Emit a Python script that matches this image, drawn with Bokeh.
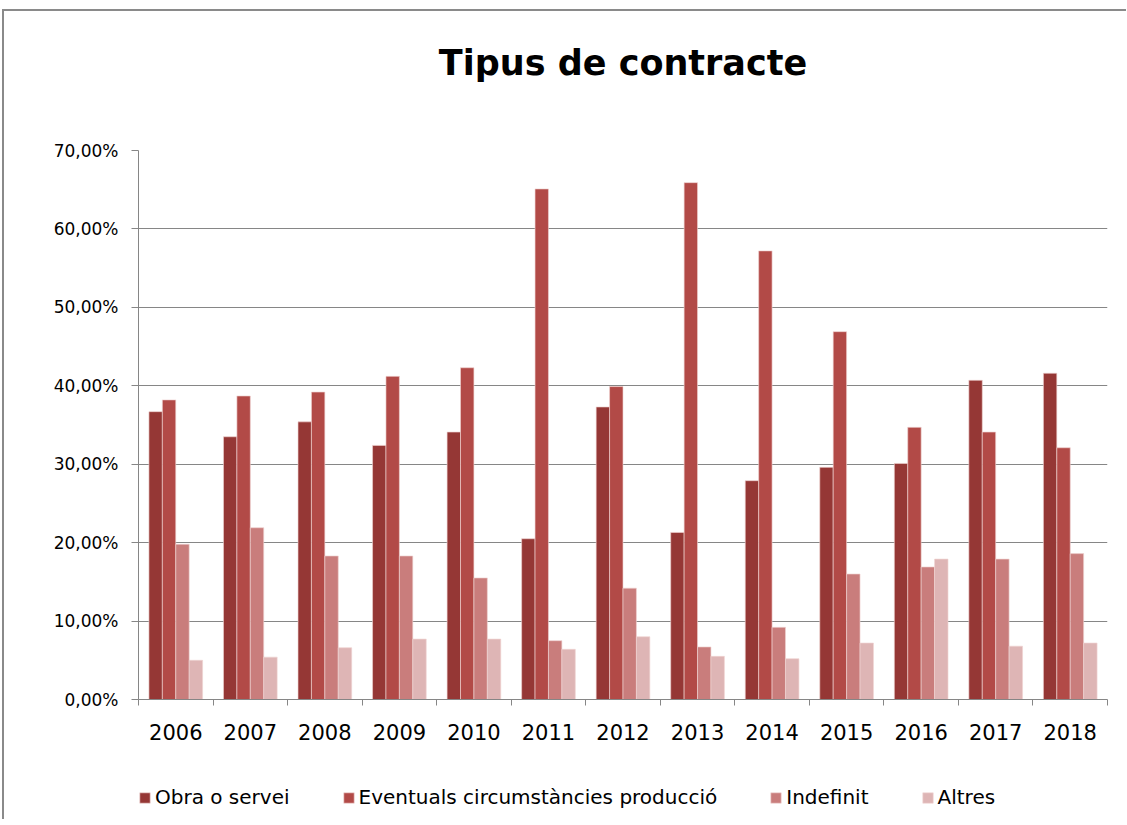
from bokeh.plotting import figure
from bokeh.layouts import column
from bokeh.models import ColumnDataSource, FixedTicker, Legend, LegendItem, Title
from bokeh.embed import file_html
from bokeh.resources import INLINE

years = ["2006", "2007", "2008", "2009", "2010", "2011", "2012",
         "2013", "2014", "2015", "2016", "2017", "2018"]
series_names = ["Obra o servei", "Eventuals circumstàncies producció", "Indefinit", "Altres"]
obra = [36.7, 33.5, 35.4, 32.4, 34.1, 20.5, 37.3, 21.3, 27.9, 29.6, 30.1, 40.7, 41.6]
eventuals = [38.2, 38.7, 39.2, 41.2, 42.3, 65.1, 39.9, 65.9, 57.2, 46.9, 34.7, 34.1, 32.1]
indefinit = [19.8, 21.9, 18.3, 18.3, 15.5, 7.5, 14.2, 6.7, 9.2, 16.0, 16.9, 17.9, 18.6]
altres = [5.0, 5.4, 6.6, 7.7, 7.7, 6.4, 8.0, 5.5, 5.2, 7.2, 17.9, 6.8, 7.2]
y_ticks = [0, 10, 20, 30, 40, 50, 60, 70]
y_tick_labels = ["0,00%", "10,00%", "20,00%", "30,00%", "40,00%", "50,00%", "60,00%", "70,00%"]

colors = ["#953735", "#B24A47", "#C97D7C", "#DEB5B5"]
values = [obra, eventuals, indefinit, altres]
offsets = [-0.27, -0.09, 0.09, 0.27]
bar_w = 0.18
edge = "#EFD3D2"

xs = list(range(len(years)))
sources = [ColumnDataSource(dict(x=[x + off for x in xs], top=vals))
           for vals, off in zip(values, offsets)]

p = figure(frame_width=969, frame_height=549, x_range=(-0.5, len(years) - 0.5), y_range=(0, 70),
           output_backend="svg", toolbar_location=None, title=None,
           min_border_left=134, min_border_right=19, min_border_top=139, min_border_bottom=60)

spacer = Title(text=" ", text_font_size="10px", standoff=55)
p.add_layout(spacer, "above")
main_title = Title(text="Tipus de contracte", text_font="DejaVu Sans", text_font_style="bold",
                   text_font_size="35px", align="center", text_color="#000000", standoff=0)
p.add_layout(main_title, "above")

p.outline_line_color = None
p.background_fill_color = "white"
p.border_fill_color = "white"

for src, col in zip(sources, colors):
    p.vbar(x="x", top="top", width=bar_w, bottom=0, source=src,
           fill_color=col, line_color=edge, line_width=0.8, line_alpha=0.8)

# x axis
p.xaxis.ticker = FixedTicker(ticks=xs, minor_ticks=[x - 0.5 for x in xs] + [len(years) - 0.5])
p.xaxis.major_label_overrides = {x: y for x, y in zip(xs, years)}
p.xaxis.major_tick_line_color = None
p.xaxis.major_tick_out = 0
p.xaxis.major_tick_in = 0
p.xaxis.minor_tick_line_color = "#868686"
p.xaxis.minor_tick_out = 6
p.xaxis.minor_tick_in = 0
p.xaxis.axis_line_color = "#868686"
p.xaxis.major_label_text_font = "DejaVu Sans"
p.xaxis.major_label_text_font_size = "21px"
p.xaxis.major_label_text_color = "#000000"
p.xaxis.major_label_standoff = 18

# y axis
p.yaxis.ticker = FixedTicker(ticks=y_ticks)
p.yaxis.major_label_overrides = {t: l for t, l in zip(y_ticks, y_tick_labels)}
p.yaxis.axis_line_color = "#868686"
p.yaxis.major_tick_line_color = "#868686"
p.yaxis.major_tick_out = 7
p.yaxis.major_tick_in = 0
p.yaxis.minor_tick_line_color = None
p.yaxis.major_label_text_font = "DejaVu Sans"
p.yaxis.major_label_text_font_size = "17px"
p.yaxis.major_label_text_color = "#000000"
p.yaxis.major_label_standoff = 13

p.xgrid.grid_line_color = None
p.ygrid.grid_line_color = "#868686"
p.ygrid.ticker = FixedTicker(ticks=y_ticks)

# legend figure (bars there lie far below its visible y range, only the legend shows)
leg = figure(frame_width=969, frame_height=60, x_range=(-0.5, len(years) - 0.5), y_range=(1000, 1001),
             output_backend="svg", toolbar_location=None, title=None,
             x_axis_type=None, y_axis_type=None,
             min_border_left=134, min_border_right=19, min_border_top=0, min_border_bottom=0)
leg.outline_line_color = None
leg.xgrid.grid_line_color = None
leg.ygrid.grid_line_color = None
items = []
for name, src, col in zip(series_names, sources, colors):
    r = leg.vbar(x="x", top="top", width=bar_w, bottom=0, source=src,
                 fill_color=col, line_color=edge, line_width=0.8, line_alpha=0.8)
    items.append(LegendItem(label=name, renderers=[r]))

legend = Legend(items=items, orientation="horizontal", location=(0, 10))
legend.label_text_font = "DejaVu Sans"
legend.label_text_font_size = "20px"
legend.label_text_color = "#000000"
legend.glyph_width = 13
legend.glyph_height = 13
legend.label_standoff = 4
legend.spacing = 52
legend.padding = 0
legend.margin = 0
legend.border_line_color = None
legend.background_fill_alpha = 0
legend.label_height = 20
leg.add_layout(legend)

layout = column(p, leg, spacing=0)
layout.styles = {"border-left": "2px solid #8a8a8a", "border-top": "2px solid #8a8a8a",
                 "margin-left": "2px", "margin-top": "9px"}

open("out.html", "w").write(file_html(layout, INLINE))
